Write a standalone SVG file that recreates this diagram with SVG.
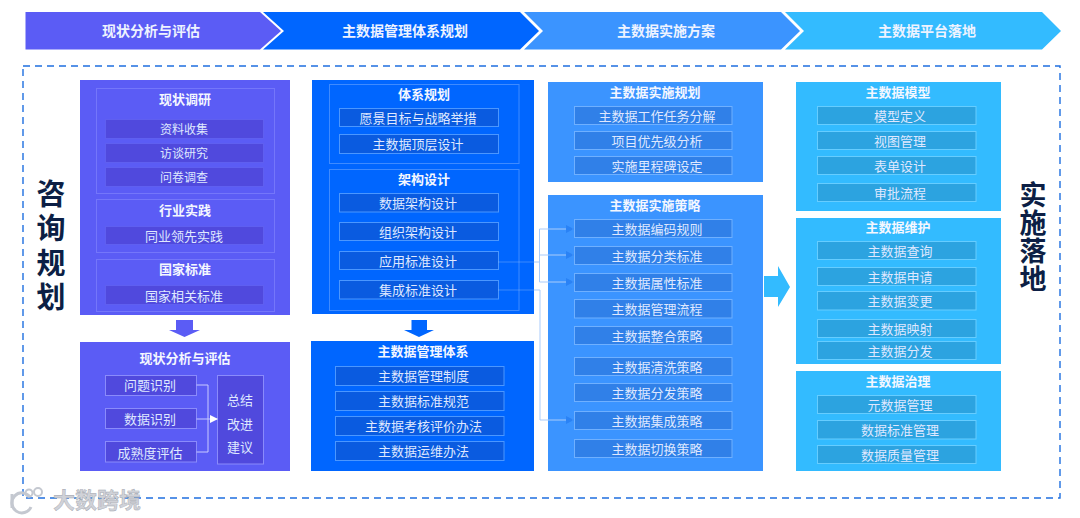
<svg xmlns="http://www.w3.org/2000/svg" width="1080" height="518" viewBox="0 0 1080 518">
<style>
text{font-family:"Noto Sans CJK SC","Noto Sans",sans-serif;text-anchor:middle;dominant-baseline:central}
.h,.t,.i{transform:translateY(-1.500px)}
.h{font-size:14px;font-weight:700;fill:#eef3ff}
.t{font-size:13px;font-weight:700;fill:#f4f7ff}
.i{font-size:13px;fill:#dfe8ff}
.s{font-weight:700;fill:#0c1f45;writing-mode:vertical-rl;text-anchor:start}
.p{fill:#5b5cf5}.b{fill:#0066ff}.m{fill:#3b94ff}.c{fill:#33bbff}
.ob{fill:none;stroke-width:1}
.op{stroke:#7476fa}.obl{stroke:#3f8bff}
.ip{fill:#5049dd;stroke:#5f5ff0}
.ip2{fill:#5049dd;stroke:#8a8bfb}
.ib{fill:#0a5be0;stroke:#4b97ff}
.im{fill:#3080e8;stroke:#6fb0ff}
.ic{fill:#2ca3e0;stroke:#66cdff}
.ln{fill:none;stroke:#a9cbfa;stroke-width:1}
.lw{fill:none;stroke:#c9caff;stroke-width:1}
</style>
<defs>
<marker id="ah" markerWidth="8" markerHeight="8" refX="7" refY="4" orient="auto" markerUnits="userSpaceOnUse"><path d="M0 0L8 4L0 8Z" fill="#2a82f5"/></marker>
<marker id="aw" markerWidth="8" markerHeight="8" refX="7" refY="4" orient="auto" markerUnits="userSpaceOnUse"><path d="M0 0L8 4L0 8Z" fill="#fff"/></marker>
</defs>
<rect width="1080" height="518" fill="#fff"/>
<rect x="23" y="66" width="1037" height="432" fill="none" stroke="#1f6fe0" stroke-width="1.400" stroke-dasharray="7 5"/>

<g id="head1"><path class="p" d="M25.500 12H260L281 31L260 49.500H25.500Z"/><text class="h" x="151" y="31">现状分析与评估</text></g>
<g id="head2"><path class="b" d="M263 12H520L539 31L520 49.500H263L284 31Z"/><text class="h" x="405" y="31">主数据管理体系规划</text></g>
<g id="head3"><path class="m" d="M524 12H781L800 31L781 49.500H524L543 31Z"/><text class="h" x="666" y="31">主数据实施方案</text></g>
<g id="head4"><path class="c" d="M785 12H1042L1061 31L1042 49.500H785L804 31Z"/><text class="h" x="927" y="31">主数据平台落地</text></g>

<g id="side-left"><text class="s" x="51" y="179" style="font-size:29px;letter-spacing:5.500px">咨询规划</text></g>
<g id="side-right"><text class="s" x="1033" y="181" style="font-size:27px;letter-spacing:1px">实施落地</text></g>

<g id="panel-survey">
<rect class="p" x="80" y="80" width="210" height="235"/>
<rect class="ob op" x="96.500" y="88.500" width="178" height="105"/>
<rect class="ob op" x="96.500" y="199.500" width="178" height="53"/>
<rect class="ob op" x="96.500" y="259.500" width="178" height="52"/>
<text class="t" x="185" y="99.500">现状调研</text>
<rect class="ip" x="105.500" y="119.500" width="158" height="19"/><text class="i" x="184" y="129.500" style="font-size:12px">资料收集</text>
<rect class="ip" x="105.500" y="143.500" width="158" height="19"/><text class="i" x="184" y="153.500" style="font-size:12px">访谈研究</text>
<rect class="ip" x="105.500" y="167.500" width="158" height="19"/><text class="i" x="184" y="177.500" style="font-size:12px">问卷调查</text>
<text class="t" x="185" y="210.500">行业实践</text>
<rect class="ip" x="105.500" y="226.500" width="158" height="18"/><text class="i" x="184" y="236.500">同业领先实践</text>
<text class="t" x="185" y="270">国家标准</text>
<rect class="ip" x="105.500" y="285.500" width="158" height="19"/><text class="i" x="184" y="296.500">国家相关标准</text>
</g>
<g id="arrow-survey"><path class="p" d="M176 320H193V330H200L184.500 337L169 330H176Z"/></g>
<g id="panel-analysis">
<rect class="p" x="80" y="342" width="210" height="129"/>
<text class="t" x="185" y="359">现状分析与评估</text>
<rect class="ip2" x="105.500" y="375.500" width="91" height="20"/><text class="i" x="150" y="386">问题识别</text>
<rect class="ip2" x="105.500" y="408.500" width="91" height="20"/><text class="i" x="150" y="420">数据识别</text>
<rect class="ip2" x="105.500" y="441.500" width="91" height="20.500"/><text class="i" x="150" y="454">成熟度评估</text>
<rect class="ip2" x="217.500" y="375.500" width="46" height="88.500"/>
<text class="i" x="240" y="401">总结</text><text class="i" x="240" y="425">改进</text><text class="i" x="240" y="448">建议</text>
</g>

<g id="panel-plan">
<rect class="b" x="312" y="80" width="222" height="234"/>
<rect class="ob obl" x="329.500" y="84.500" width="189.500" height="79"/>
<rect class="ob obl" x="329.500" y="169.500" width="189.500" height="141"/>
<text class="t" x="424" y="95">体系规划</text>
<rect class="ib" x="339.500" y="108.500" width="159" height="18"/><text class="i" x="418" y="118.500">愿景目标与战略举措</text>
<rect class="ib" x="339.500" y="134.500" width="159" height="19"/><text class="i" x="418" y="145">主数据顶层设计</text>
<text class="t" x="424" y="180">架构设计</text>
<rect class="ib" x="339.500" y="193.500" width="159" height="18.500"/><text class="i" x="418" y="204">数据架构设计</text>
<rect class="ib" x="339.500" y="222.500" width="159" height="18"/><text class="i" x="418" y="233">组织架构设计</text>
<rect class="ib" x="339.500" y="251.500" width="159" height="18"/><text class="i" x="418" y="261.500">应用标准设计</text>
<rect class="ib" x="339.500" y="280.500" width="159" height="18.500"/><text class="i" x="418" y="291">集成标准设计</text>
</g>
<g id="arrow-plan"><path class="b" d="M411.500 320H427V330H434L419 337L404 330H411.500Z"/></g>
<g id="panel-system">
<rect class="b" x="311" y="341" width="223" height="130"/>
<text class="t" x="423" y="352">主数据管理体系</text>
<rect class="ib" x="335.500" y="366.500" width="168.500" height="19"/><text class="i" x="423.500" y="377">主数据管理制度</text>
<rect class="ib" x="335.500" y="391.500" width="168.500" height="19"/><text class="i" x="423.500" y="402">主数据标准规范</text>
<rect class="ib" x="335.500" y="416.500" width="168.500" height="19"/><text class="i" x="423.500" y="427">主数据考核评价办法</text>
<rect class="ib" x="335.500" y="441.500" width="168.500" height="19"/><text class="i" x="423.500" y="452">主数据运维办法</text>
</g>

<g id="panel-impl-plan">
<rect class="m" x="548" y="82" width="215" height="100"/>
<text class="t" x="655" y="93">主数据实施规划</text>
<rect class="im" x="574.500" y="106.500" width="157.500" height="18"/><text class="i" x="657" y="116.500">主数据工作任务分解</text>
<rect class="im" x="574.500" y="131.500" width="157.500" height="18"/><text class="i" x="657" y="141.500">项目优先级分析</text>
<rect class="im" x="574.500" y="156.500" width="157.500" height="18"/><text class="i" x="657" y="166.500">实施里程碑设定</text>
</g>
<g id="panel-impl-strategy">
<rect class="m" x="548" y="195" width="215" height="276"/>
<text class="t" x="655" y="206">主数据实施策略</text>
<rect class="im" x="574.500" y="219.500" width="157.500" height="18"/><text class="i" x="657" y="229.500">主数据编码规则</text>
<rect class="im" x="574.500" y="246.500" width="157.500" height="18"/><text class="i" x="657" y="256.500">主数据分类标准</text>
<rect class="im" x="574.500" y="273.500" width="157.500" height="18"/><text class="i" x="657" y="284">主数据属性标准</text>
<rect class="im" x="574.500" y="299.500" width="157.500" height="18.500"/><text class="i" x="657" y="310">主数据管理流程</text>
<rect class="im" x="574.500" y="326.500" width="157.500" height="18"/><text class="i" x="657" y="337">主数据整合策略</text>
<rect class="im" x="574.500" y="357.500" width="157.500" height="18"/><text class="i" x="657" y="367.500">主数据清洗策略</text>
<rect class="im" x="574.500" y="383.500" width="157.500" height="18"/><text class="i" x="657" y="394">主数据分发策略</text>
<rect class="im" x="574.500" y="411.500" width="157.500" height="18"/><text class="i" x="657" y="421.500">主数据集成策略</text>
<rect class="im" x="574.500" y="439.500" width="157.500" height="18"/><text class="i" x="657" y="449.500">主数据切换策略</text>
</g>
<g id="arrow-impl"><path class="c" d="M764 276H778V266L790 287L778 307V297H764Z"/></g>

<g id="panel-model">
<rect class="c" x="796" y="82" width="205" height="129"/>
<text class="t" x="898" y="93">主数据模型</text>
<rect class="ic" x="817.500" y="106.500" width="158.500" height="18"/><text class="i" x="900" y="116.500">模型定义</text>
<rect class="ic" x="817.500" y="131.500" width="158.500" height="18"/><text class="i" x="900" y="141.500">视图管理</text>
<rect class="ic" x="817.500" y="156.500" width="158.500" height="18"/><text class="i" x="900" y="166.500">表单设计</text>
<rect class="ic" x="817.500" y="183.500" width="158.500" height="18"/><text class="i" x="900" y="193.500">审批流程</text>
</g>
<g id="panel-maintain">
<rect class="c" x="796" y="218" width="205" height="146"/>
<text class="t" x="898" y="228">主数据维护</text>
<rect class="ic" x="817.500" y="241.500" width="158.500" height="18"/><text class="i" x="900" y="252">主数据查询</text>
<rect class="ic" x="817.500" y="267.500" width="158.500" height="18"/><text class="i" x="900" y="277.500">主数据申请</text>
<rect class="ic" x="817.500" y="291.500" width="158.500" height="18.500"/><text class="i" x="900" y="302">主数据变更</text>
<rect class="ic" x="817.500" y="319.500" width="158.500" height="18"/><text class="i" x="900" y="329.500">主数据映射</text>
<rect class="ic" x="817.500" y="341.500" width="158.500" height="18"/><text class="i" x="900" y="352">主数据分发</text>
</g>
<g id="panel-govern">
<rect class="c" x="796" y="371" width="205" height="100"/>
<text class="t" x="898" y="382">主数据治理</text>
<rect class="ic" x="817.500" y="395.500" width="158.500" height="18"/><text class="i" x="900" y="405.500">元数据管理</text>
<rect class="ic" x="817.500" y="420.500" width="158.500" height="18.500"/><text class="i" x="900" y="431">数据标准管理</text>
<rect class="ic" x="817.500" y="445.500" width="158.500" height="18"/><text class="i" x="900" y="456">数据质量管理</text>
</g>

<g id="connectors">
<path class="lw" d="M196.500 385H208V452H196.500M196.500 419H217" marker-end="url(#aw)"/>
<g opacity="0.350"><path class="ln" d="M498 262H534"/><path class="ln" d="M498 290H534"/></g>
<path class="ln" d="M534 262H539.500V229H573" marker-end="url(#ah)"/>
<path class="ln" d="M539.500 255H573" marker-end="url(#ah)"/>
<path class="ln" d="M539.500 262V282H573" marker-end="url(#ah)"/>
<path class="ln" d="M534 290H540V420H573" marker-end="url(#ah)"/>
</g>

<g id="watermark">
<g fill="none" stroke="#c4c8d0" stroke-width="3"><path d="M12 494V508"/><path d="M30 497A10 10 0 1 0 31 507"/><g stroke-width="2"><circle cx="29" cy="493" r="3.500"/><circle cx="38" cy="492" r="4"/></g></g>
<text x="97" y="498" style="font-size:22px;font-weight:700;fill:#d0d2d8;stroke:#9ea3ac;stroke-width:0.400">大数跨境</text>
</g>
</svg>
